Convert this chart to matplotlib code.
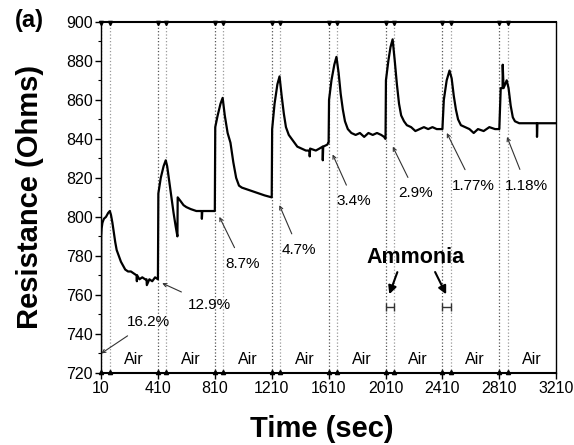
import numpy as np
import matplotlib.pyplot as plt

plt.rcParams['font.family'] = ['Liberation Sans', 'DejaVu Sans']

# resistance trace (sec, Ohms)
t = [10, 11, 14, 20, 30, 45, 60, 72, 80, 90, 100, 110, 120, 135, 150, 165, 180, 200,
     220, 240, 260, 262, 264, 280, 300, 320, 330, 332, 350, 370, 390, 409,
     410, 413, 430, 450, 465, 475, 490, 505, 520, 535, 547, 549, 570, 590, 610, 640,
     680, 718, 719, 722, 760, 809,
     810, 813, 830, 850, 865, 880, 900, 920, 940, 960, 980, 1000, 1040, 1080, 1120,
     1160, 1209,
     1210, 1213, 1230, 1250, 1265, 1280, 1295, 1310, 1330, 1350, 1370, 1390, 1420,
     1450, 1476, 1477, 1480, 1520, 1545, 1568, 1569, 1572, 1600, 1609,
     1610, 1613, 1630, 1650, 1665, 1680, 1695, 1710, 1725, 1745, 1770, 1800, 1830,
     1860, 1890, 1920, 1950, 1980, 2000, 2009,
     2010, 2013, 2030, 2045, 2060, 2075, 2090, 2105, 2120, 2140, 2160, 2190, 2220,
     2250, 2280, 2310, 2340, 2370, 2409,
     2410, 2420, 2440, 2460, 2475, 2490, 2505, 2520, 2540, 2570, 2600, 2630, 2660,
     2700, 2740, 2780, 2809,
     2810, 2820, 2833, 2834, 2840, 2862, 2875, 2890, 2905, 2920, 2950, 3000, 3050,
     3074, 3075, 3078, 3120, 3160, 3210]
R = [730, 790, 794, 797, 799, 800, 802, 803, 801, 797, 792, 787, 783, 780, 777, 775, 773, 772,
     772, 771, 770, 767, 770, 768, 769, 768, 768, 765, 768, 767, 769, 768,
     768, 812, 820, 826, 829, 826, 818, 810, 802, 795, 790, 810, 808, 806, 805, 804,
     803, 803, 799, 803, 803, 803,
     803, 846, 852, 858, 861, 852, 843, 838, 828, 820, 816, 815, 814, 813, 812,
     811, 810,
     810, 845, 858, 868, 872, 862, 853, 846, 842, 840, 838, 836, 835,
     834, 834, 831, 835, 834, 835, 836, 829, 836, 837, 838,
     838, 860, 870, 878, 882, 874, 863, 855, 849, 845, 843, 842, 843,
     841, 843, 842, 843, 842, 841, 840,
     840, 870, 880, 887, 891, 880, 868, 858, 852, 849, 847, 846, 844,
     845, 846, 845, 846, 845, 845,
     845, 860, 870, 875, 871, 862, 855, 850, 847, 846, 845, 843, 845,
     844, 846, 845, 845,
     845, 866, 866, 878, 866, 870, 866, 857, 851, 849, 848, 848, 848,
     848, 841, 848, 848, 848, 848]

starts = [10, 410, 810, 1210, 1610, 2010, 2410, 2810]
exposure = 60
air_x = [240, 640, 1040, 1440, 1840, 2240, 2640, 3040]

pct_labels = ['16.2%', '12.9%', '8.7%', '4.7%', '3.4%', '2.9%', '1.77%', '1.18%']
pct_tip = [(12, 730), (440, 766), (842, 800), (1264, 806), (1638, 832), (2061, 836),
           (2441, 843), (2864, 841)]
pct_text = [(340, 746), (770, 755), (1004, 776), (1400, 783), (1786, 808),
            (2223, 812), (2625, 816), (3000, 816)]

fig = plt.figure(figsize=(5.74, 4.45), dpi=100)
ax = fig.add_axes([0.176, 0.162, 0.793, 0.789])

for s in starts:
    for xv, col in ((s, '#555555'), (s + exposure, '#999999')):
        ax.axvline(xv, color=col, ls=':', lw=0.9, zorder=1)
        ax.plot([xv], [899.3], marker='v', ms=3, color='k', clip_on=False, zorder=4)
        ax.plot([xv], [720.7], marker='^', ms=3, color='k', clip_on=False, zorder=4)

ax.plot(t, R, color='k', lw=1.6, zorder=3)

for xa in air_x:
    ax.text(xa, 727, 'Air', ha='center', va='center', fontsize=11.5)

for lab, tip, txt in zip(pct_labels, pct_tip, pct_text):
    ax.annotate(lab, xy=tip, xytext=txt, ha='center', va='center', fontsize=11,
                arrowprops=dict(arrowstyle='->', lw=0.8, color='#333333',
                                mutation_scale=6, shrinkB=0, shrinkA=5))

# ammonia exposure markers
amm_x = [2040, 2440]
ax.errorbar(amm_x, [754, 754], xerr=[30, 30], fmt='none', ecolor='#333333',
            elinewidth=1.0, capsize=3, capthick=1.0, zorder=4)
ax.text(2223, 779, 'Ammonia', ha='center', va='center', fontsize=15.5, fontweight='bold')
ax.annotate('', xy=(2030, 759), xytext=(2100, 773),
            arrowprops=dict(arrowstyle='-|>', lw=1.5, color='k', mutation_scale=12))
ax.annotate('', xy=(2445, 759), xytext=(2350, 773),
            arrowprops=dict(arrowstyle='-|>', lw=1.5, color='k', mutation_scale=12))

ax.set_xlim(10, 3210)
ax.set_ylim(720, 900)
ax.set_xticks(np.arange(10, 3211, 400))
ax.set_yticks(np.arange(720, 901, 20))
ax.set_yticks(np.arange(730, 900, 20), minor=True)
ax.tick_params(axis='both', which='major', direction='out', length=4, width=1,
               labelsize=11.5, pad=2)
ax.tick_params(axis='y', which='minor', direction='out', length=2, width=0.8)
for sp in ax.spines.values():
    sp.set_linewidth(1.0)
ax.spines['bottom'].set_linewidth(1.5)
ax.spines['top'].set_linewidth(1.5)

ax.set_xlabel('Time (sec)', fontsize=21, fontweight='bold')
ax.set_ylabel('Resistance (Ohms)', fontsize=21, fontweight='bold')
ax.xaxis.set_label_coords(0.484, -0.12)
ax.yaxis.set_label_coords(-0.125, 0.5)
fig.text(0.026, 0.955, '(a)', fontsize=17, fontweight='bold', ha='left', va='center')

fig.savefig('out.png', dpi=100)
